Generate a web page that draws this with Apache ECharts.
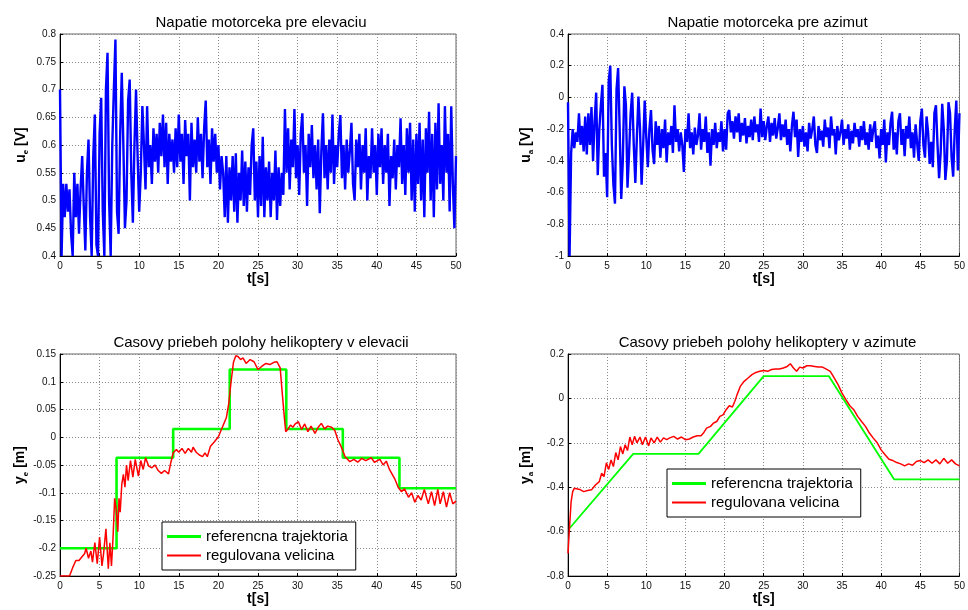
<!DOCTYPE html>
<html>
<head>
<meta charset="utf-8">
<script src="https://cdn.jsdelivr.net/npm/echarts@6/dist/echarts.min.js"></script>
<style>
html,body{margin:0;padding:0;background:#fff;}
#c{width:968px;height:610px;}
</style>
</head>
<body>
<div id="c"></div>
<script>
// ---- data ----
const T_STEP = 0.2; // sampling step of motor voltage records [s]
const xTicksMax = 50;

// u_e [V], samples every 0.2 s from 0 to 50 s
const ue = [
 0.70,0.40,0.53,0.47,0.53, 0.48,0.52,0.44,0.40,0.55, 0.47,0.53,0.44,0.52,0.58, 0.49,0.41,0.55,0.61,0.47,
 0.40,0.58,0.655,0.42,0.40, 0.62,0.685,0.48,0.40,0.70, 0.766,0.50,0.40,0.60,0.70, 0.79,0.48,0.44,0.62,0.73,
 0.60,0.45,0.50,0.68,0.718, 0.55,0.46,0.60,0.70,0.58, 0.48,0.55,0.67,0.60,0.52, 0.67,0.56,0.60,0.53,0.63,
 0.57,0.62,0.55,0.64,0.58, 0.655,0.56,0.64,0.53,0.62, 0.57,0.61,0.55,0.63,0.56, 0.655,0.57,0.62,0.53,0.645,
 0.58,0.62,0.50,0.64,0.56, 0.61,0.55,0.65,0.57,0.62, 0.54,0.63,0.68,0.56,0.61, 0.53,0.63,0.57,0.62,0.55,
 0.60,0.52,0.58,0.55,0.47, 0.58,0.46,0.56,0.50,0.58, 0.48,0.585,0.46,0.55,0.50, 0.59,0.49,0.57,0.48,0.56,
 0.51,0.60,0.63,0.50,0.57, 0.47,0.58,0.49,0.615,0.47, 0.56,0.50,0.57,0.47,0.55, 0.50,0.59,0.465,0.56,0.49,
 0.55,0.51,0.665,0.55,0.63, 0.52,0.61,0.56,0.665,0.54, 0.60,0.51,0.62,0.657,0.55, 0.60,0.49,0.62,0.56,0.636,
 0.54,0.60,0.52,0.61,0.477, 0.59,0.657,0.54,0.60,0.52, 0.61,0.55,0.655,0.53,0.60, 0.56,0.62,0.654,0.54,0.60,
 0.52,0.61,0.55,0.59,0.64, 0.53,0.50,0.61,0.56,0.62, 0.52,0.60,0.55,0.63,0.50, 0.58,0.54,0.63,0.55,0.60,
 0.51,0.62,0.56,0.63,0.53, 0.60,0.55,0.62,0.49,0.58, 0.54,0.61,0.52,0.60,0.56, 0.648,0.53,0.60,0.51,0.63,
 0.55,0.64,0.50,0.61,0.48, 0.62,0.53,0.64,0.50,0.61, 0.47,0.63,0.55,0.66,0.50, 0.62,0.47,0.64,0.52,0.675,
 0.53,0.60,0.50,0.67,0.55, 0.62,0.48,0.67,0.53,0.45, 0.58
];

// u_a [V], samples every 0.2 s from 0 to 50 s
const ua = [
 -0.03,-1.00,-0.35,-0.20,-0.32, -0.22,-0.28,-0.10,-0.30,-0.18, -0.34,-0.12,-0.36,-0.10,-0.30, -0.06,-0.40,-0.15,0.03,-0.49,
 -0.20,-0.05,0.08,-0.50,-0.35, -0.63,0.10,0.20,-0.30,-0.55, -0.67,0.05,0.185,-0.20,-0.64, -0.40,0.07,-0.05,-0.57,-0.35,
 -0.10,0.03,-0.30,-0.54,-0.25, 0.005,-0.20,-0.55,-0.30,-0.02, -0.25,-0.44,-0.20,-0.08,-0.33, -0.42,-0.15,-0.30,-0.18,-0.38,
 -0.20,-0.32,-0.14,-0.41,-0.22, -0.30,-0.18,-0.35,-0.05,-0.28, -0.20,-0.34,-0.22,-0.30,-0.47, -0.20,-0.28,-0.10,-0.32,-0.22,
 -0.36,-0.19,-0.30,-0.24,-0.10, -0.33,-0.20,-0.28,-0.12,-0.35, -0.22,-0.43,-0.20,-0.30,-0.16, -0.32,-0.22,-0.28,-0.15,-0.34,
 -0.20,-0.33,-0.10,-0.08,-0.22, -0.15,-0.26,-0.12,-0.22,-0.10, -0.28,-0.16,-0.24,-0.13,-0.29, -0.18,-0.25,-0.14,-0.27,-0.12,
 -0.22,-0.17,-0.28,-0.07,-0.25, -0.15,-0.27,-0.18,-0.12,-0.28, -0.16,-0.24,-0.13,-0.26,-0.19, -0.10,-0.27,-0.17,-0.25,-0.14,
 -0.30,-0.20,-0.34,-0.18,-0.09, -0.25,-0.14,-0.375,-0.20,-0.28, -0.18,-0.31,-0.22,-0.34,-0.16, -0.26,-0.20,-0.12,-0.30,-0.35,
 -0.18,-0.27,-0.21,-0.31,-0.14, -0.25,-0.19,-0.32,-0.12,-0.24, -0.20,-0.36,-0.18,-0.27,-0.22, -0.14,-0.30,-0.20,-0.26,-0.17,
 -0.33,-0.21,-0.29,-0.16,-0.25, -0.20,-0.31,-0.18,-0.27,-0.15, -0.30,-0.22,-0.33,-0.17,-0.28, -0.20,-0.15,-0.32,-0.24,-0.385,
 -0.20,-0.30,-0.14,-0.41,-0.22, -0.30,-0.16,-0.09,-0.33,-0.22, -0.36,-0.15,-0.10,-0.30,-0.20, -0.37,-0.18,-0.26,-0.12,-0.32,
 -0.22,-0.38,-0.17,-0.29,-0.40, -0.15,-0.07,-0.30,-0.38,-0.12, -0.22,-0.42,-0.28,-0.44,-0.10, -0.05,-0.30,-0.51,-0.35,-0.04,
 -0.20,-0.52,-0.40,-0.03,-0.10, -0.38,-0.50,-0.20,-0.02,-0.46, -0.10
];

// y_e reference trajectory (piecewise constant), change times [s] and levels [m]
const yeRefT = [0, 7.14, 14.29, 21.43, 28.57, 35.71, 42.86, 50];
const yeRefV = [-0.2, -0.037, 0.015, 0.122, 0.015, -0.037, -0.092, -0.092];

// y_e measured output
const yeT = [0,1.2,1.6,2.0,2.4,2.8,3.1,3.3,3.6,3.9,4.1,4.4,4.7,5.0,5.3,5.5,5.8,6.1,6.3,6.5,6.7,6.9,7.1,7.3,7.45,7.6,7.8,8.0,8.2,8.4,8.6,8.9,9.2,9.5,9.9,10.2,10.5,10.8,11.2,11.6,12.0,12.4,12.8,13.2,13.7,14.0,14.3,14.7,15.0,15.4,15.8,16.2,16.6,16.8,17.2,17.6,18.0,18.3,18.6,19.0,19.5,20.0,20.5,21.0,21.3,21.6,21.9,22.2,22.5,22.8,23.1,23.5,24.0,24.5,25.0,25.5,26.0,26.5,27.0,27.4,27.8,28.0,28.3,28.5,28.8,29.1,29.4,29.7,30.1,30.5,30.9,31.3,31.7,32.2,32.6,33.0,33.4,33.8,34.3,34.7,35.1,35.5,36.0,36.6,37.1,37.6,38.1,38.6,39.3,39.7,40.4,40.8,41.2,41.6,42.3,42.7,43.1,43.5,44.0,44.4,44.8,45.2,45.6,46.0,46.5,46.9,47.3,47.7,48.0,48.4,48.8,49.2,49.6,50.0];
const yeV = [-0.25,-0.25,-0.235,-0.222,-0.222,-0.215,-0.21,-0.2,-0.218,-0.205,-0.225,-0.19,-0.228,-0.18,-0.232,-0.21,-0.165,-0.237,-0.19,-0.232,-0.18,-0.11,-0.13,-0.17,-0.11,-0.135,-0.085,-0.067,-0.09,-0.05,-0.078,-0.042,-0.072,-0.04,-0.07,-0.042,-0.058,-0.037,-0.052,-0.055,-0.05,-0.06,-0.065,-0.06,-0.066,-0.045,-0.028,-0.022,-0.027,-0.02,-0.029,-0.02,-0.027,-0.018,-0.027,-0.032,-0.035,-0.028,-0.035,-0.016,-0.008,0.001,0.018,0.035,0.06,0.1,0.135,0.147,0.145,0.14,0.143,0.133,0.14,0.136,0.122,0.128,0.133,0.131,0.135,0.136,0.125,0.09,0.04,0.01,0.015,0.022,0.018,0.024,0.028,0.014,0.024,0.01,0.02,0.007,0.018,0.025,0.015,0.02,0.018,0.012,-0.005,-0.017,-0.035,-0.044,-0.04,-0.045,-0.038,-0.042,-0.037,-0.045,-0.04,-0.05,-0.043,-0.058,-0.076,-0.09,-0.098,-0.093,-0.108,-0.1,-0.117,-0.105,-0.113,-0.094,-0.12,-0.098,-0.123,-0.094,-0.12,-0.098,-0.126,-0.1,-0.12,-0.115];

// y_a reference trajectory (piecewise linear)
const yaRefT = [0.2, 8.33, 16.67, 25, 33.33, 41.67, 50];
const yaRefV = [-0.585, -0.25, -0.25, 0.1, 0.1, -0.365, -0.365];

// y_a measured output
const yaT = [0,0.2,0.4,0.6,0.8,1.5,2,2.5,3,3.5,4,4.3,4.6,4.9,5.2,5.5,5.8,6.1,6.4,6.7,7,7.3,7.6,7.9,8.2,8.5,8.8,9.2,9.5,9.9,10.3,10.6,11,11.4,11.8,12.2,12.6,13,13.5,14,14.5,15,15.5,16,16.5,17,17.3,17.7,18.2,18.6,19,19.4,19.8,20.2,20.6,21,21.3,21.6,22,22.5,23,23.5,24,24.5,25,25.5,26,26.5,27,27.5,28,28.4,28.8,29.2,29.6,30,30.5,31,31.5,32,32.5,33,33.5,34,34.5,35,35.5,36,36.5,37,37.5,38,38.5,39,39.5,40,40.5,41,41.5,42,42.5,43,43.5,44,44.5,45,45.5,46,46.5,47,47.5,48,48.5,49,49.5,50];
const yaV = [-0.698,-0.577,-0.465,-0.42,-0.405,-0.41,-0.42,-0.415,-0.412,-0.39,-0.375,-0.337,-0.352,-0.29,-0.32,-0.277,-0.307,-0.244,-0.277,-0.217,-0.25,-0.209,-0.235,-0.174,-0.209,-0.171,-0.2,-0.174,-0.209,-0.174,-0.214,-0.178,-0.2,-0.174,-0.197,-0.178,-0.186,-0.178,-0.171,-0.183,-0.174,-0.186,-0.183,-0.174,-0.168,-0.168,-0.156,-0.134,-0.126,-0.111,-0.104,-0.081,-0.074,-0.051,-0.033,-0.039,-0.014,0.017,0.054,0.077,0.092,0.107,0.117,0.122,0.126,0.122,0.13,0.132,0.132,0.137,0.144,0.156,0.137,0.122,0.141,0.137,0.147,0.147,0.144,0.141,0.141,0.132,0.122,0.092,0.062,0.024,-0.006,-0.033,-0.051,-0.081,-0.104,-0.126,-0.156,-0.179,-0.2,-0.232,-0.254,-0.274,-0.28,-0.289,-0.295,-0.304,-0.295,-0.301,-0.284,-0.28,-0.289,-0.277,-0.292,-0.277,-0.295,-0.27,-0.292,-0.277,-0.295,-0.304];

const titles = ['Napatie motorceka pre elevaciu','Napatie motorceka pre azimut','Casovy priebeh polohy helikoptery v elevacii','Casovy priebeh polohy helikoptery v azimute'];
const yNames = [['u','e','[V]'],['u','a','[V]'],['y','e','[m]'],['y','a','[m]']];
const yRanges = [[0.4,0.8,0.05],[-1,0.4,0.2],[-0.25,0.15,0.05],[-0.8,0.2,0.2]];
const legendNames = ['referencna trajektoria','regulovana velicina'];

// ---- chart ----
const FONT = "'Liberation Sans', Arial, Helvetica, sans-serif";
const grids = [
  {left:60, top:34, width:396, height:222},
  {left:568, top:34, width:393, height:222},
  {left:60, top:354, width:396, height:222},
  {left:568, top:354, width:393, height:222}
];
const zip = (t, v) => v.map((y, i) => [t[i], y]);
const sampled = v => v.map((y, i) => [+(i * T_STEP).toFixed(2), y]);

const gridOpts = grids.map(g => Object.assign({show:true, borderColor:'#666', borderWidth:1, backgroundColor:'#fff', containLabel:false}, g));

const xAxes = grids.map((g, i) => ({
  type:'value', gridIndex:i, min:0, max:xTicksMax, interval:5,
  name:'t[s]', nameLocation:'middle', nameGap: i < 2 ? 12 : 14,
  nameTextStyle:{fontFamily:FONT, fontSize:14, fontWeight:'bold', color:'#000'},
  axisLine:{show:true, onZero:false, lineStyle:{color:'#000', width:1}},
  axisTick:{show:true, inside:true, length:3, lineStyle:{color:'#000'}},
  axisLabel:{fontFamily:FONT, fontSize:10, color:'#111', margin:5},
  splitLine:{show:true, lineStyle:{color:'#8a8a8a', type:[1,2], width:1}}
}));

const yAxes = grids.map((g, i) => ({
  type:'value', gridIndex:i, min:yRanges[i][0], max:yRanges[i][1], interval:yRanges[i][2],
  name:'{b|' + yNames[i][0] + '}{s|' + yNames[i][1] + '}{b| ' + yNames[i][2] + '}',
  nameLocation:'middle', nameGap: i % 2 === 0 ? 30 : 33, nameRotate:90,
  nameTextStyle:{rich:{
    b:{fontFamily:FONT, fontSize:14, fontWeight:'bold', color:'#000', verticalAlign:'top', lineHeight:16},
    s:{fontFamily:FONT, fontSize:8, fontWeight:'bold', color:'#000', verticalAlign:'bottom', lineHeight:8, padding:[11,0,0,0]}
  }},
  axisLine:{show:true, onZero:false, lineStyle:{color:'#000', width:1}},
  axisTick:{show:true, inside:true, length:3, lineStyle:{color:'#000'}},
  axisLabel:{fontFamily:FONT, fontSize:10, color:'#111', margin:4},
  splitLine:{show:true, lineStyle:{color:'#8a8a8a', type:[1,2], width:1}}
}));

const titleOpts = titles.map((t, i) => ({
  text:t, left: grids[i].left + grids[i].width/2 - 2, top: i < 2 ? 10 : 330, textAlign:'center',
  textStyle:{fontFamily:FONT, fontSize:15, fontWeight:'normal', color:'#000'}
}));

const lineBase = {type:'line', showSymbol:false, symbol:'none', animation:false, clip:true, z:3};

const series = [
  Object.assign({}, lineBase, {xAxisIndex:0, yAxisIndex:0, data:sampled(ue), lineStyle:{color:'#0000ff', width:2.4}}),
  Object.assign({}, lineBase, {xAxisIndex:1, yAxisIndex:1, data:sampled(ua), lineStyle:{color:'#0000ff', width:2.4}}),
  Object.assign({}, lineBase, {name:legendNames[0], xAxisIndex:2, yAxisIndex:2, data:zip(yeRefT, yeRefV), step:'end', itemStyle:{color:'#00ff00'}, lineStyle:{color:'#00ff00', width:2.6}}),
  Object.assign({}, lineBase, {name:legendNames[1], xAxisIndex:2, yAxisIndex:2, data:zip(yeT, yeV), itemStyle:{color:'#ff0000'}, lineStyle:{color:'#ff0000', width:1.5}, z:4}),
  Object.assign({}, lineBase, {name:legendNames[0], xAxisIndex:3, yAxisIndex:3, data:zip(yaRefT, yaRefV), itemStyle:{color:'#00ff00'}, lineStyle:{color:'#00ff00', width:1.8}}),
  Object.assign({}, lineBase, {name:legendNames[1], xAxisIndex:3, yAxisIndex:3, data:zip(yaT, yaV), itemStyle:{color:'#ff0000'}, lineStyle:{color:'#ff0000', width:1.5}, z:4})
];

const legendItems = [
  {name:legendNames[0], icon:'path://M0 0H34V3H0Z'},
  {name:legendNames[1], icon:'path://M0 0H34V2H0Z'}
];

const legendBase = {
  orient:'vertical', data:legendItems, itemWidth:34, itemHeight:14, itemGap:4,
  padding:[7,8,7,5], borderColor:'#000', borderWidth:1, backgroundColor:'#fff',
  textStyle:{fontFamily:FONT, fontSize:15, color:'#000'}, selectedMode:false, z:10
};

const chart = echarts.init(document.getElementById('c'), null, {renderer:'canvas'});
chart.setOption({
  backgroundColor:'#fff',
  animation:false,
  title:titleOpts,
  grid:gridOpts,
  xAxis:xAxes,
  yAxis:yAxes,
  legend:[
    Object.assign({}, legendBase, {left:162, top:522}),
    Object.assign({}, legendBase, {left:667, top:469})
  ],
  series:series
});
</script>
</body>
</html>
